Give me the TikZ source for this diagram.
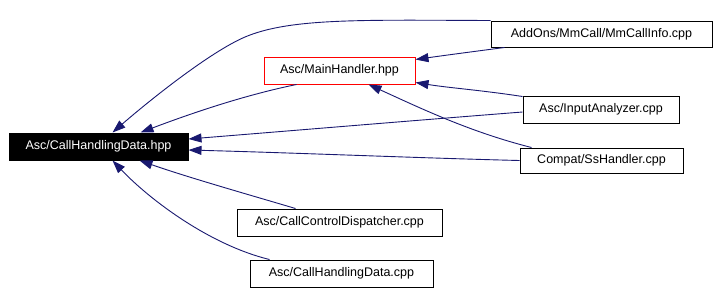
\documentclass[tikz,border=0pt]{standalone}
\usepackage{fontspec}
\setmainfont{Liberation Sans}
\usetikzlibrary{arrows.meta,calc}
\definecolor{edgeblue}{HTML}{191970}
\definecolor{hlred}{HTML}{FF0000}
\tikzset{
  file/.style={draw=black, line width=1pt, fill=white, inner sep=0pt,
    minimum height=27pt, font=\fontsize{12.5}{15}\selectfont},
  current/.style={file, fill=black, text=white},
  focus/.style={file, draw=hlred},
  dep/.style={draw=edgeblue, line width=0.9pt,
    -{Triangle[length=13pt,width=9pt,fill=edgeblue]}}
}
\begin{document}
\begin{tikzpicture}[x=1pt,y=-1pt]
\useasboundingbox (0,0) rectangle (717,293);
% files
\node[current, minimum width=179pt] (chd) at (98.5,146.5) {Asc/CallHandlingData.hpp};
\node[focus, minimum width=151pt] (mh) at (339.5,70.5) {Asc/MainHandler.hpp};
\node[file, minimum width=221pt, minimum height=26pt] (mm) at (601.5,34) {AddOns/MmCall/MmCallInfo.cpp};
\node[file, minimum width=156pt] (ia) at (601,109.5) {Asc/InputAnalyzer.cpp};
\node[file, minimum width=163pt, minimum height=25pt] (ss) at (601.5,160.5) {Compat/SsHandler.cpp};
\node[file, minimum width=205pt] (ccd) at (339.5,222.5) {Asc/CallControlDispatcher.cpp};
\node[file, minimum width=183pt] (chdc) at (341.5,273.5) {Asc/CallHandlingData.cpp};
% include dependencies
\draw[dep] (mm.north west) .. controls (360,20) and (290,18) .. (245,37)
  .. controls (210,52) and (150,100) .. ($(chd.north west)+(104,0)$);
\draw[dep] ($(mm.south west)+(14,0)$) .. controls (470,52) and (440,56) .. ($(mh.north east)+(0,3)$);
\draw[dep] ($(mh.south west)+(33,0)$) .. controls (250,94) and (200,110) .. ($(chd.north west)+(132,0)$);
\draw[dep] ($(ia.north west)+(0,1)$) .. controls (480,90) and (450,88) .. ($(mh.south east)+(0,-2)$);
\draw[dep] ($(ia.west)+(0,2.5)$) .. controls (420,120) and (300,130) .. ($(chd.east)+(0,-7.5)$);
\draw[dep] ($(ss.north west)+(12,0)$) .. controls (470,132) and (420,108) .. ($(mh.south west)+(105,0)$);
\draw[dep] (ss.west) .. controls (420,158) and (300,153) .. ($(chd.east)+(0,3.5)$);
\draw[dep] ($(ccd.north west)+(59,0)$) .. controls (250,195) and (190,178) .. ($(chd.south west)+(131,0)$);
\draw[dep] ($(chdc.north west)+(20,0)$) .. controls (210,245) and (150,200) .. ($(chd.south west)+(104,0)$);
\end{tikzpicture}
\end{document}
